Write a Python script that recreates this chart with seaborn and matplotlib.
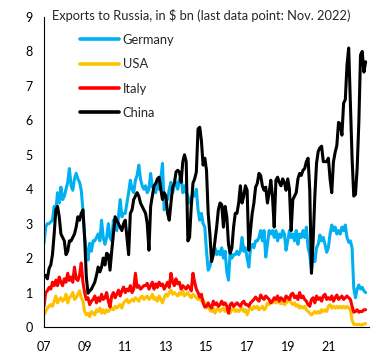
import numpy as np
import pandas as pd
import matplotlib
matplotlib.use("Agg")
import matplotlib.pyplot as plt
import seaborn as sns

# Monthly exports to Russia, $ bn, Jan 2007 - Nov 2022
germany = [
    2.43, 2.9, 3.0, 3.0, 3.05, 3.1, 3.5, 3.4, 3.9, 3.6, 4.06, 3.7,
    3.8, 4.0, 4.2, 4.6, 4.1, 3.97, 4.3, 4.46, 4.3, 4.2, 3.97, 3.4,
    2.6, 2.23, 1.94, 2.43, 2.2, 2.5, 2.5, 2.6, 2.7, 2.5, 3.1, 2.6,
    2.4, 2.6, 3.0, 2.6, 2.5, 3.1, 2.9, 2.8, 3.2, 3.7, 3.2, 3.3,
    3.3, 3.6, 3.9, 4.26, 4.0, 3.9, 4.26, 4.4, 4.7, 4.3, 4.1, 4.0,
    4.1, 3.9, 4.0, 4.46, 4.06, 4.1, 3.9, 4.2, 4.0, 4.3, 4.75, 3.4,
    3.8, 3.7, 4.0, 4.2, 3.9, 4.1, 4.2, 4.0, 4.3, 4.35, 3.9, 4.1,
    3.9, 3.8, 3.6, 3.7, 3.9, 3.8, 4.0, 3.4, 3.1, 3.3, 3.0, 2.9,
    2.2, 1.65, 1.75, 2.0, 2.2, 2.3, 2.1, 2.2, 2.1, 2.3, 2.0, 2.2,
    1.6, 1.36, 2.2, 2.0, 2.1, 2.1, 2.2, 2.1, 2.2, 2.6, 2.2, 2.3,
    2.0, 1.74, 2.3, 2.4, 2.3, 2.5, 2.5, 2.6, 2.8, 2.5, 2.8, 2.03,
    2.4, 2.8, 2.7, 2.8, 2.6, 2.8, 2.5, 2.7, 2.6, 2.8, 2.7, 2.23,
    2.5, 2.8, 2.6, 2.7, 2.5, 2.8, 2.4, 2.7, 2.6, 2.8, 2.6, 2.9,
    2.3, 2.1, 1.65, 2.1, 1.9, 2.3, 2.4, 2.67, 2.5, 2.6, 2.4, 2.17,
    2.3, 2.7, 2.96, 2.8, 2.9, 2.7, 2.8, 2.7, 2.9, 2.8, 2.96, 2.6,
    2.46, 2.5, 2.3, 1.13, 0.85, 1.1, 1.22, 1.1, 1.15, 1.05, 1.0,
]
usa = [
    0.35, 0.45, 0.55, 0.6, 0.65, 0.6, 0.75, 0.9, 0.7, 0.8, 0.85, 0.75,
    0.8, 0.95, 0.7, 0.85, 0.9, 1.0, 0.8, 0.85, 0.95, 1.05, 0.85, 0.75,
    0.45, 0.35, 0.4, 0.3, 0.45, 0.4, 0.35, 0.5, 0.45, 0.55, 0.4, 0.5,
    0.4, 0.5, 0.45, 0.5, 0.55, 0.5, 0.6, 0.55, 0.6, 0.65, 0.55, 0.7,
    0.75, 0.8, 0.7, 0.75, 0.8, 0.75, 0.85, 0.8, 0.75, 0.85, 0.9, 0.8,
    0.85, 0.9, 0.8, 0.85, 0.95, 0.8, 0.85, 0.75, 0.9, 0.8, 0.7, 0.85,
    0.95, 0.9, 1.0, 1.07, 0.95, 1.0, 0.95, 0.9, 1.0, 0.95, 1.05, 0.9,
    0.95, 1.0, 0.9, 0.85, 0.95, 0.9, 0.85, 0.8, 0.85, 0.75, 0.8, 0.7,
    0.55, 0.6, 0.5, 0.45, 0.55, 0.4, 0.5, 0.55, 0.45, 0.5, 0.55, 0.45,
    0.5, 0.55, 0.4, 0.5, 0.55, 0.45, 0.5, 0.45, 0.5, 0.55, 0.45, 0.5,
    0.35, 0.5, 0.55, 0.5, 0.6, 0.55, 0.6, 0.5, 0.55, 0.6, 0.5, 0.55,
    0.7, 0.65, 0.75, 0.7, 0.78, 0.7, 0.75, 0.7, 0.68, 0.72, 0.65, 0.7,
    0.75, 0.87, 0.7, 0.65, 0.7, 0.6, 0.65, 0.55, 0.6, 0.55, 0.6, 0.5,
    0.45, 0.4, 0.35, 0.4, 0.45, 0.4, 0.45, 0.4, 0.5, 0.45, 0.5, 0.45,
    0.6, 0.65, 0.55, 0.6, 0.55, 0.6, 0.55, 0.6, 0.55, 0.6, 0.55, 0.6,
    0.55, 0.5, 0.2, 0.08, 0.07, 0.07, 0.08, 0.06, 0.07, 0.08, 0.1,
]
italy = [
    0.6, 1.0, 1.05, 1.15, 1.1, 1.3, 1.2, 1.36, 1.2, 1.45, 1.3, 1.2,
    1.4, 1.3, 1.56, 1.35, 1.45, 1.3, 1.74, 1.4, 1.35, 1.5, 1.86, 1.3,
    1.0, 0.8, 0.85, 0.65, 0.75, 0.8, 0.9, 0.7, 0.85, 0.75, 0.95, 0.8,
    0.85, 1.0, 0.75, 0.58, 0.9, 1.0, 0.85, 0.95, 1.07, 0.9, 1.05, 1.16,
    1.0, 1.1, 1.05, 1.2, 1.0, 1.1, 1.56, 1.15, 1.2, 1.1, 1.15, 1.2,
    1.2, 1.27, 1.1, 1.2, 1.3, 1.1, 1.25, 1.15, 1.3, 1.2, 1.25, 1.1,
    1.2, 1.3, 1.15, 1.56, 1.3, 1.2, 1.4, 1.25, 1.3, 1.1, 1.2, 1.15,
    1.1, 1.2, 1.15, 1.05, 1.56, 1.3, 1.1, 1.0, 0.87, 0.95, 0.7, 0.58,
    0.6, 0.7, 0.6, 0.55, 0.75, 0.65, 0.7, 0.6, 0.65, 0.75, 0.65, 0.7,
    0.6, 0.4, 0.65, 0.7, 0.6, 0.65, 0.7, 0.65, 0.6, 0.7, 0.75, 0.65,
    0.65, 0.6, 0.7, 0.75, 0.8, 0.87, 0.8, 0.75, 0.93, 0.85, 0.8, 0.9,
    0.85, 0.8, 0.7, 0.75, 0.85, 0.8, 0.9, 0.75, 0.85, 0.8, 0.75, 0.9,
    0.85, 0.8, 0.95, 0.98, 0.85, 0.9, 0.8, 1.0, 0.85, 0.9, 0.8, 0.75,
    0.65, 0.6, 0.8, 0.85, 0.7, 0.9, 0.8, 0.85, 0.75, 0.9, 0.95, 0.8,
    0.85, 0.8, 0.9, 0.75, 0.85, 0.93, 0.8, 0.85, 0.9, 0.8, 0.85, 0.9,
    0.85, 0.8, 0.6, 0.43, 0.45, 0.5, 0.43, 0.45, 0.45, 0.5, 0.5,
]
china = [
    1.45, 1.5, 1.4, 1.7, 1.8, 2.1, 2.7, 3.4, 3.5, 3.2, 2.7, 2.6,
    2.5, 2.1, 2.2, 2.5, 2.5, 2.6, 2.7, 2.9, 3.2, 3.1, 3.3, 3.4,
    2.6, 1.45, 0.98, 1.05, 1.1, 1.2, 1.3, 1.5, 1.74, 1.6, 1.74, 2.0,
    1.8, 2.14, 2.1, 1.65, 2.2, 2.7, 3.2, 3.1, 3.0, 2.9, 2.8, 3.0,
    3.1, 2.6, 2.1, 3.3, 3.4, 3.7, 3.8, 3.9, 3.8, 3.6, 3.5, 3.4,
    3.3, 3.0, 2.23, 3.5, 3.8, 4.1, 4.17, 4.3, 4.35, 4.0, 3.7, 3.9,
    3.8, 3.3, 3.1, 3.6, 4.06, 4.17, 4.5, 4.55, 4.5, 4.2, 4.8, 5.0,
    4.8, 2.5, 2.6, 3.5, 4.17, 4.3, 4.5, 5.75, 5.8, 5.4, 4.7, 4.9,
    4.55, 3.3, 2.7, 1.9, 2.1, 2.5, 2.9, 3.4, 3.6, 3.55, 2.9, 3.5,
    3.2, 2.4, 2.14, 2.3, 2.9, 3.3, 3.3, 3.6, 4.1, 3.6, 3.8, 4.1,
    3.97, 2.23, 2.8, 3.3, 3.6, 4.06, 4.17, 4.46, 4.4, 4.1, 3.97, 4.06,
    3.6, 3.9, 4.26, 3.77, 2.9, 4.26, 4.35, 4.2, 4.1, 4.3, 4.2, 3.97,
    4.3, 4.0, 2.8, 3.7, 3.8, 3.9, 4.3, 4.46, 4.4, 4.55, 4.6, 4.8,
    4.9, 3.97, 1.56, 2.5, 3.8, 4.75, 5.1, 5.2, 5.25, 4.8, 4.8, 4.8,
    4.9, 4.3, 3.9, 4.8, 5.07, 5.27, 5.94, 5.9, 5.57, 6.5, 6.6, 7.6,
    8.1, 6.5, 4.9, 3.8, 3.85, 4.6, 5.94, 7.9, 8.0, 7.4, 7.7,
]

countries = ["Germany", "USA", "Italy", "China"]
colors = ["#00B0F0", "#FFC000", "#FF0000", "#000000"]
x_ticks = [2007, 2009, 2011, 2013, 2015, 2017, 2019, 2021, 2023]
x_labels = ["07", "09", "11", "13", "15", "17", "19", "21", ""]
y_ticks = list(range(0, 10))
title = "Exports to Russia, in $ bn (last data point: Nov. 2022)"

n = len(china)
t = 2007 + np.arange(n) / 12.0
df = pd.DataFrame({
    "t": np.concatenate([t] * 4),
    "value": np.concatenate([germany, usa, italy, china]),
    "country": np.repeat(countries, n),
})

sns.set_style("white")
plt.rcParams["font.family"] = ["Lato", "DejaVu Sans"]

fig = plt.figure(figsize=(3.84, 3.6), dpi=100)
ax = fig.add_axes([44 / 384, 1 - 327 / 360, (369 - 44) / 384, (327 - 17) / 360])
sns.lineplot(data=df, x="t", y="value", hue="country", hue_order=countries,
             palette=colors, linewidth=2.2, ax=ax, legend=True)

ax.set_xlim(2007, 2023)
ax.set_ylim(0, 9)
ax.set_xticks(x_ticks)
ax.set_xticklabels(x_labels)
ax.set_yticks(y_ticks)
ax.set_xlabel("")
ax.set_ylabel("")
for s in ["top", "right"]:
    ax.spines[s].set_visible(False)
for s in ["left", "bottom"]:
    ax.spines[s].set_color("black")
    ax.spines[s].set_linewidth(0.8)
ax.tick_params(axis="both", direction="out", length=4, width=0.8,
               color="black", labelsize=9, labelcolor="black", pad=4)
ax.tick_params(axis="x", pad=6)

handles, labels = ax.get_legend_handles_labels()
leg = ax.legend(handles, labels, loc="upper left",
                bbox_to_anchor=(80 / 384, 1 - 34 / 360),
                bbox_transform=fig.transFigure, frameon=False,
                fontsize=9.3, handlelength=3.0, handletextpad=0.3,
                labelspacing=0.95, borderpad=0, borderaxespad=0)
for line in leg.get_lines():
    line.set_linewidth(2.6)

fig.text(52 / 384, 1 - 16 / 360, title, fontsize=9.3, va="center", ha="left")

fig.savefig("out.png", dpi=100)
